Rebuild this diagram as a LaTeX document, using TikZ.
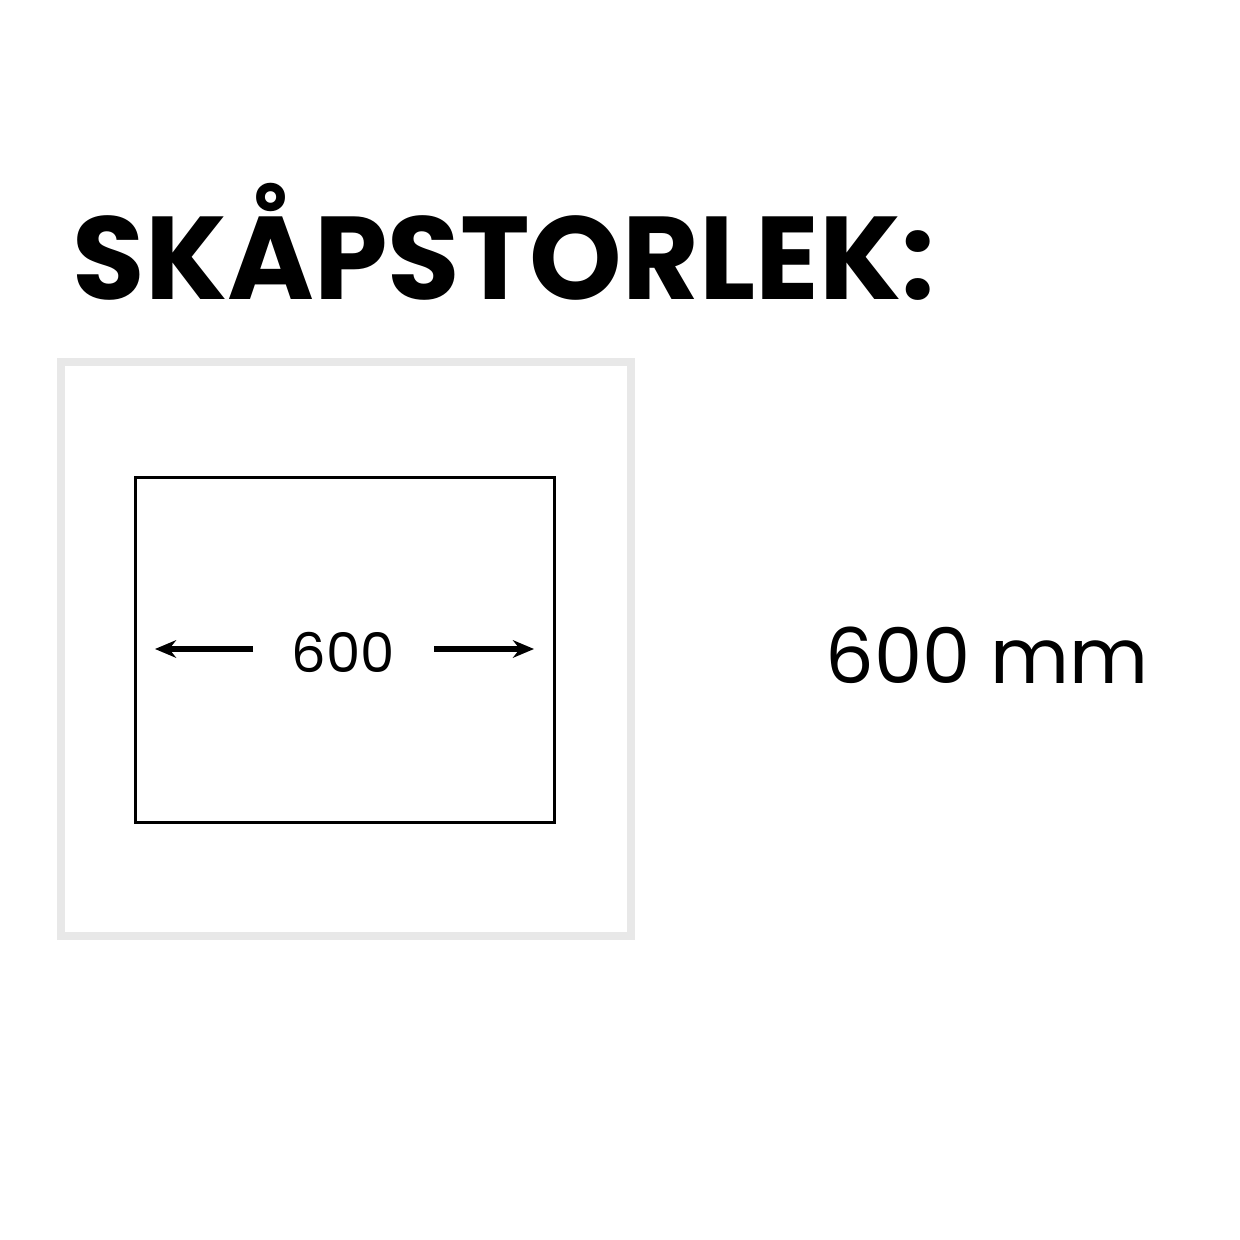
\documentclass[tikz,border=0pt]{standalone}
\usepackage{fontspec}
\setmainfont{Poppins}
\usetikzlibrary{arrows.meta}
\begin{document}
\begin{tikzpicture}[x=0.01cm,y=-0.01cm]
		\tikzset{frame/.style = {draw=black!9, line width=0.8mm}}
		\tikzset{cabinet/.style = {draw=black, line width=0.3mm}}
		\tikzset{dimarrow/.style = {draw, line width=1.6pt, -{Stealth[length=6pt,width=5pt]}}}

		\useasboundingbox (0,0) rectangle (1240,1240);

		\draw[frame] (61,362) rectangle (631,936);
		\draw[cabinet] (135,478) rectangle (554,822);

		\node[font=\fontsize{33.5}{40}\selectfont\bfseries, anchor=base west, inner sep=0] (title) at (72,300) {SKÅPSTORLEK:};
		\node[font=\fontsize{15.5}{20}\selectfont, inner sep=0] (width) at (343,652) {600};
		\node[font=\fontsize{21.8}{28}\selectfont, inner sep=0] (size) at (987,655) {600 mm};

		\coordinate (L) at (155,649);
		\coordinate (R) at (534,649);
		\coordinate (LS) at (253,649);
		\coordinate (RS) at (434,649);

		\draw[dimarrow] (LS)--(L);
		\draw[dimarrow] (RS)--(R);

	\end{tikzpicture}
\end{document}
